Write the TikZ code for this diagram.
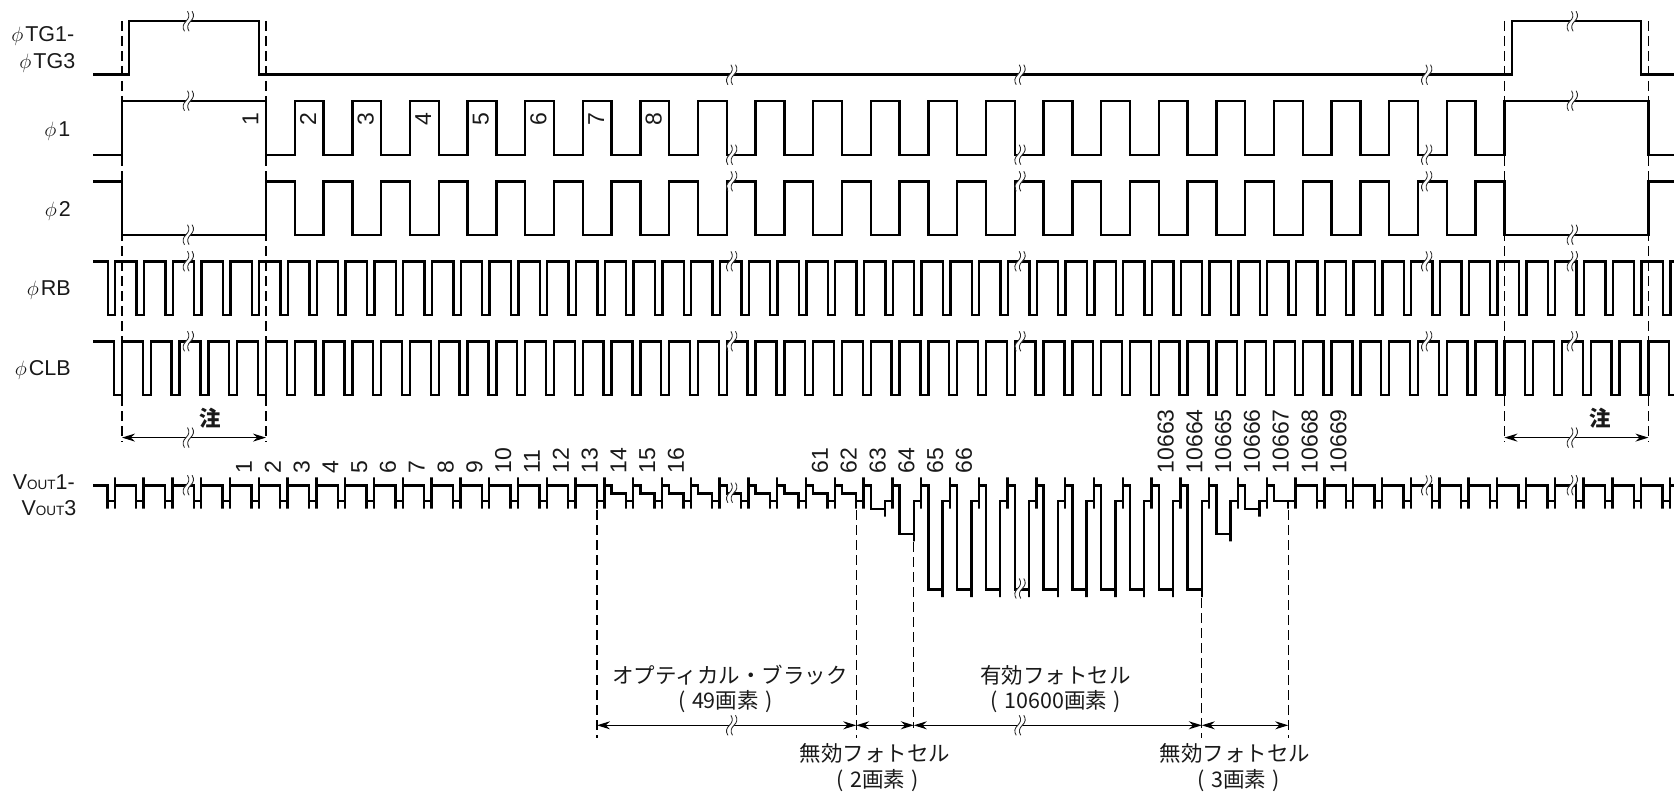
\documentclass[tikz,border=0pt]{standalone}
\usepackage{fontspec}
\setmainfont{Liberation Sans}
\newfontfamily\cjk{Noto Sans CJK JP}
\usetikzlibrary{arrows.meta}
\newcommand\lbl{\fontsize{21.5}{25}\selectfont}
\newcommand\ph{$\phi$\hspace{2pt}}
\newcommand\vout[1]{V{\fontsize{13.5}{16}\selectfont OUT}#1}
\newcommand\pr[1]{(\hspace{6.5pt}#1\hspace{6.5pt})}
\tikzset{
  sig/.style={line width=2.4pt,black,line join=miter},
  guide/.style={line width=1.15pt,black,dash pattern=on 10pt off 5pt},
  span/.style={line width=1.25pt,black,{Stealth[length=13pt,width=8pt]}-{Stealth[length=13pt,width=8pt]}},
  brkline/.style={line width=0.85pt,black!85},
  rowlabel/.style={anchor=base east,inner sep=0pt,font=\lbl,text=black!90},
  numup/.style={rotate=90,anchor=west,inner sep=0pt,font=\fontsize{23}{27}\selectfont,text=black!90},
  numin/.style={rotate=90,anchor=center,inner sep=0pt,font=\fontsize{23}{27}\selectfont,text=black!90},
  jp/.style={anchor=center,inner sep=0pt,font=\lbl\cjk,text=black!90,align=center},
}
\newcommand\brkmark[2]{%
  \begin{scope}[shift={(#1,#2)}]
    \fill[white] (3.8,-10) .. controls (6.3,-6) and (5.3,-3) .. (2.3,0)
      .. controls (-0.7,3) and (-1.7,6) .. (0.8,10) -- (-0.8,10)
      .. controls (-6.3,6) and (-5.3,3) .. (-2.3,0)
      .. controls (0.7,-3) and (1.7,-6) .. (-0.8,-10) -- cycle;
    \draw[brkline] (3.8,-10) .. controls (6.3,-6) and (5.3,-3) .. (2.3,0)
      .. controls (-0.7,3) and (-1.7,6) .. (0.8,10);
    \draw[brkline] (-0.8,-10) .. controls (1.7,-6) and (0.7,-3) .. (-2.3,0)
      .. controls (-5.3,3) and (-6.3,6) .. (-3.8,10);
  \end{scope}}
\begin{document}
\begin{tikzpicture}[x=1pt,y=-1pt]
\useasboundingbox (0,0) rectangle (1674,792);

% guide lines
\foreach \gx/\gt/\gb in {122/21/442,266/21/442,1504.4/21/442,1648.4/21/442,
    597/510/738,856.2/510/738,913.8/542/728,1201.8/598/738,1288.2/510/738}
  \draw[guide] (\gx,\gt) -- (\gx,\gb);

% phi TG
\draw[sig] (93,74.7) -- (129,74.7) -- (129,21.3) -- (258.7,21.3) -- (258.7,74.7)
  -- (1511.7,74.7) -- (1511.7,21.3) -- (1641,21.3) -- (1641,74.7) -- (1674,74.7);

% phi 1
\draw[sig] (93,154.7) -- (122,154.7) -- (122,100.7) -- (266,100.7) -- (266,154.7)
  \foreach \k [evaluate=\k as \ra using 294.8+57.6*\k, evaluate=\k as \fa using 323.6+57.6*\k] in {0,...,20}
    { -- (\ra,154.7) -- (\ra,100.7) -- (\fa,100.7) -- (\fa,154.7) }
  -- (1504.4,154.7) -- (1504.4,100.7) -- (1648.4,100.7) -- (1648.4,154.7) -- (1674,154.7);

% phi 2
\draw[sig] (93,181.3) -- (122,181.3) -- (122,234.7) -- (266,234.7) -- (266,181.3)
  \foreach \k [evaluate=\k as \ra using 294.8+57.6*\k, evaluate=\k as \fa using 323.6+57.6*\k] in {0,...,20}
    { -- (\ra,181.3) -- (\ra,234.7) -- (\fa,234.7) -- (\fa,181.3) }
  -- (1504.4,181.3) -- (1504.4,234.7) -- (1648.4,234.7) -- (1648.4,181.3) -- (1674,181.3);

% phi RB
\draw[sig] (93,261.3)
  \foreach \k [evaluate=\k as \fa using 107.7+28.8*\k, evaluate=\k as \ra using 115.2+28.8*\k] in {0,...,54}
    { -- (\fa,261.3) -- (\fa,314.7) -- (\ra,314.7) -- (\ra,261.3) }
  -- (1674,261.3);

% phi CLB
\draw[sig] (93,341.3)
  \foreach \k [evaluate=\k as \fa using 114+28.8*\k, evaluate=\k as \ra using 122+28.8*\k] in {0,...,53}
    { -- (\fa,341.3) -- (\fa,394.7) -- (\ra,394.7) -- (\ra,341.3) }
  -- (1669.2,341.3) -- (1669.2,394.7) -- (1674,394.7);

% Vout
\draw[sig] (93,485.3) -- (107.4,485.3) -- (107.4,508.7) -- (107.4,500.9) -- (114.8,500.9)
  -- (114.8,508.7) -- (114.8,477.3) -- (114.8,485.3);
\foreach \k in {0,...,53} {
  \pgfmathsetmacro\Rk{114.8+28.8*\k}
  \pgfmathsetmacro\Sx{\Rk+7.2}
  \pgfmathsetmacro\Ln{107.4+28.8*(\k+1)}
  \pgfmathsetmacro\Rn{114.8+28.8*(\k+1)}
  \pgfmathsetmacro\Lv{\k<17?485.3:(\k<26?493.3:(\k<27?509:(\k<28?533.7:(\k<38?589.3:(\k<39?533.7:(\k<40?509:(\k<41?500.9:485.3)))))))}
  \pgfmathsetmacro\Bt{max(508.7,\Lv+7.7)}
  \draw[sig] (\Rk,485.3) -- (\Sx,485.3) -- (\Sx,\Lv) -- (\Ln,\Lv) -- (\Ln,\Bt) -- (\Ln,500.9)
    -- (\Rn,500.9) -- (\Rn,508.7) -- (\Rn,477.3) -- (\Rn,485.3);
}
\draw[sig] (1670,485.3) -- (1674,485.3);

% dimension arrows
\coordinate (a1) at (122,437.6);
\coordinate (a2) at (266,437.6);
\coordinate (a3) at (1504.4,437.6);
\coordinate (a4) at (1648.4,437.6);
\coordinate (b1) at (597,725.3);
\coordinate (b2) at (856.2,725.3);
\coordinate (b3) at (913.8,725.3);
\coordinate (b4) at (1201.8,725.3);
\coordinate (b5) at (1288.2,725.3);
\draw[span] (a1) -- (a2);
\draw[span] (a3) -- (a4);
\draw[span] (b1) -- (b2);
\draw[span] (b2) -- (b3);
\draw[span] (b3) -- (b4);
\draw[span] (b4) -- (b5);

% break marks
\foreach \bx/\by in {188.3/21.3,188.3/100.7,188.3/234.7,188.3/261.3,188.3/341.3,188.3/437.6,188.3/485.3,
  731.7/74.7,731.7/154.7,731.7/181.3,731.7/261.3,731.7/341.3,731.7/492.7,731.7/725.3,
  1020/74.7,1020/154.7,1020/181.3,1020/261.3,1020/341.3,1020/588.5,1020/725.3,
  1426.7/74.7,1426.7/154.7,1426.7/181.3,1426.7/261.3,1426.7/341.3,1426.7/485.3,
  1572.3/21.3,1572.3/100.7,1572.3/234.7,1572.3/261.3,1572.3/341.3,1572.3/437.6,1572.3/485.3}
  \brkmark{\bx}{\by};

% row labels
\node[rowlabel] (lTGa) at (74.5,41.7) {\ph TG1-};
\node[rowlabel] (lTGb) at (75.5,69) {\ph TG3};
\node[rowlabel] (lPa) at (70.5,136) {\ph 1};
\node[rowlabel] (lPb) at (71,216) {\ph 2};
\node[rowlabel] (lRB) at (71,295) {\ph RB};
\node[rowlabel] (lCLB) at (71,375) {\ph CLB};
\node[rowlabel] (lVa) at (75,489) {\vout{1-}};
\node[rowlabel] (lVb) at (76.5,515) {\vout{3}};

% numbers on phi 1
\foreach \n in {1,...,8} {
  \pgfmathsetmacro\px{250.5+57.6*(\n-1)}
  \node[numin] (p\n) at (\px,119) {\n};
}

% numbers above Vout
\foreach \n/\i in {1/0,2/1,3/2,4/3,5/4,6/5,7/6,8/7,9/8,10/9,11/10,12/11,13/12,14/13,15/14,16/15,
    61/20,62/21,63/22,64/23,65/24,66/25,
    10663/32,10664/33,10665/34,10666/35,10667/36,10668/37,10669/38} {
  \pgfmathsetmacro\px{244+28.8*\i}
  \node[numup] (v\n) at (\px,473.5) {\n};
}

% Japanese labels
\node[jp] (nA) at (210,418) {\bfseries 注};
\node[jp] (nB) at (1600,418) {\bfseries 注};
\node[jp] (t1) at (730,675) {オプティカル・ブラック};
\node[jp] (t2) at (725.5,701.5) {\pr{49画素}};
\node[jp] (t3) at (1055.5,675) {有効フォトセル};
\node[jp] (t4) at (1056,701.5) {\pr{10600画素}};
\node[jp] (t5) at (875,753) {無効フォトセル};
\node[jp] (t6) at (877.6,780.5) {\pr{2画素}};
\node[jp] (t7) at (1235,753) {無効フォトセル};
\node[jp] (t8) at (1238.7,780.5) {\pr{3画素}};
\end{tikzpicture}
\end{document}
